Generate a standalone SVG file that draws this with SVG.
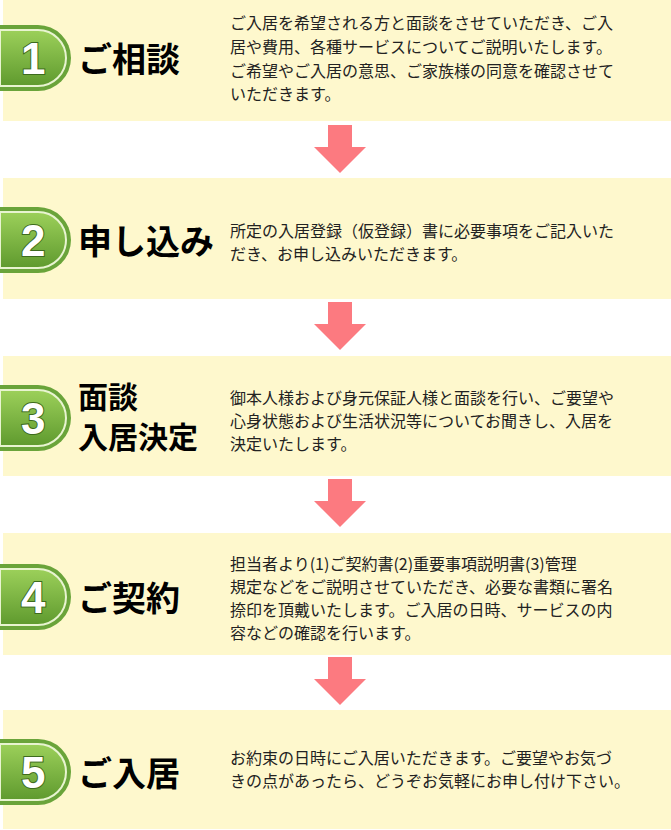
<svg xmlns="http://www.w3.org/2000/svg" width="671" height="830" viewBox="0 0 671 830">
<defs>
<style>
.p{fill:#fef8cd}
.t{font-family:"Noto Sans CJK JP",sans-serif;font-weight:bold;font-size:34px;fill:#000}
.t3{font-size:30px}
.b{font-family:"Noto Sans CJK JP",sans-serif;font-size:16px;fill:#222}
.n{font-family:"Liberation Sans",sans-serif;font-weight:bold;font-size:44px;fill:#fff;stroke:#3d6b1e;stroke-width:2;paint-order:stroke}
.a{fill:#fc7a80}
</style>
<linearGradient id="g" x1="0" y1="0" x2="0" y2="1"><stop offset="0" stop-color="#9cd05a"/><stop offset="1" stop-color="#5f9a2e"/></linearGradient>
<g id="badge"><path d="M0 -33 H38 A33 33 0 0 1 38 33 H0 Z" fill="#6aa43a"/><path d="M0 -28 H38 A28 28 0 0 1 38 28 H0 Z" fill="url(#g)" stroke="#e8f4d0" stroke-width="2"/></g>
<path id="arr" d="M-12 0 H12 V22 H26 L0 48 L-26 22 H-12 Z"/>
</defs>
<g id="connectors" class="a">
<use href="#arr" x="340" y="125"/>
<use href="#arr" x="340" y="302"/>
<use href="#arr" x="340" y="479"/>
<use href="#arr" x="340" y="657"/>
</g>
<g id="step1"><rect class="p" x="3" y="0" width="668" height="121"/><use href="#badge" x="0" y="58"/><text class="n" x="21" y="74">1</text><text class="t" x="78" y="72">ご相談</text>
<text class="b"><tspan x="230" y="29">ご入居を希望される方と面談をさせていただき、ご入</tspan><tspan x="230" y="53">居や費用、各種サービスについてご説明いたします。</tspan><tspan x="230" y="77">ご希望やご入居の意思、ご家族様の同意を確認させて</tspan><tspan x="230" y="100">いただきます。</tspan></text></g>
<g id="step2"><rect class="p" x="3" y="178" width="668" height="121"/><use href="#badge" x="0" y="240"/><text class="n" x="21" y="256">2</text><text class="t" x="78" y="254">申し込み</text>
<text class="b"><tspan x="230" y="237">所定の入居登録（仮登録）書に必要事項をご記入いた</tspan><tspan x="230" y="260">だき、お申し込みいただきます。</tspan></text></g>
<g id="step3"><rect class="p" x="3" y="356" width="668" height="120"/><use href="#badge" x="0" y="418"/><text class="n" x="21" y="434">3</text><text class="t t3" x="78" y="408">面談</text><text class="t t3" x="78" y="448">入居決定</text>
<text class="b"><tspan x="230" y="404">御本人様および身元保証人様と面談を行い、ご要望や</tspan><tspan x="230" y="427">心身状態および生活状況等についてお聞きし、入居を</tspan><tspan x="230" y="450">決定いたします。</tspan></text></g>
<g id="step4"><rect class="p" x="3" y="533" width="668" height="122"/><use href="#badge" x="0" y="597"/><text class="n" x="21" y="613">4</text><text class="t" x="78" y="611">ご契約</text>
<text class="b"><tspan x="230" y="570">担当者より(1)ご契約書(2)重要事項説明書(3)管理</tspan><tspan x="230" y="593">規定などをご説明させていただき、必要な書類に署名</tspan><tspan x="230" y="616">捺印を頂戴いたします。ご入居の日時、サービスの内</tspan><tspan x="230" y="639">容などの確認を行います。</tspan></text></g>
<g id="step5"><rect class="p" x="3" y="710" width="668" height="119"/><use href="#badge" x="0" y="772"/><text class="n" x="21" y="788">5</text><text class="t" x="78" y="786">ご入居</text>
<text class="b"><tspan x="230" y="764">お約束の日時にご入居いただきます。ご要望やお気づ</tspan><tspan x="230" y="787">きの点があったら、どうぞお気軽にお申し付け下さい。</tspan></text></g>
</svg>
